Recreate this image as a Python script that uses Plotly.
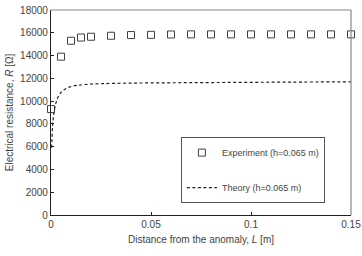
import plotly.graph_objects as go

exp_x = [0, 0.005, 0.01, 0.015, 0.02, 0.03, 0.04, 0.05, 0.06, 0.07, 0.08, 0.09, 0.1, 0.11, 0.12, 0.13, 0.14, 0.15]
exp_y = [9300, 13900, 15300, 15580, 15650, 15740, 15800, 15820, 15850, 15860, 15860, 15860, 15860, 15860, 15860, 15860, 15860, 15860]

th_x = [0.0003, 0.001, 0.0018, 0.0025, 0.0035, 0.0045, 0.0055, 0.007, 0.0095, 0.013, 0.017, 0.025, 0.04, 0.06, 0.08, 0.1, 0.12, 0.15]
th_y = [5900, 8300, 9300, 9850, 10350, 10650, 10850, 11050, 11250, 11380, 11460, 11530, 11580, 11610, 11630, 11650, 11670, 11690]

x_ticks = [0, 0.05, 0.1, 0.15]
x_tick_text = ["0", "0.05", "0.1", "0.15"]
y_ticks = [0, 2000, 4000, 6000, 8000, 10000, 12000, 14000, 16000, 18000]
y_tick_text = [str(v) for v in y_ticks]

fig = go.Figure()
fig.add_trace(go.Scatter(
    x=exp_x, y=exp_y, mode="markers", name="Experiment (h=0.065 m)",
    marker=dict(symbol="square-open", size=7, color="#404040", line=dict(width=1)),
    legendgroup="a", cliponaxis=False))
fig.add_trace(go.Scatter(
    x=th_x, y=th_y, mode="lines", name="Theory (h=0.065 m)",
    line=dict(color="#222222", width=1.2, dash="3px,2.5px", shape="spline"),
    legendgroup="b"))

fig.update_layout(
    width=362, height=256,
    margin=dict(l=51, r=11, t=10, b=41),
    paper_bgcolor="white", plot_bgcolor="white",
    font=dict(family="Liberation Sans, Arial, sans-serif", size=10, color="#444444"),
    showlegend=True,
    legend=dict(x=0.433, y=0.38, xanchor="left", yanchor="top",
                bordercolor="#555555", borderwidth=1, bgcolor="white",
                font=dict(size=9, color="#444444"), tracegroupgap=16,
                itemwidth=30),
    xaxis=dict(range=[0, 0.15], tickvals=x_ticks, ticktext=x_tick_text, automargin=False,
               showgrid=False, zeroline=False, showline=True, linecolor="#222222",
               linewidth=1.2, ticks="inside", ticklen=3, tickcolor="#222222",
               tickfont=dict(size=10),
               title=dict(text="Distance from the anomaly, <i>L</i> [m]", standoff=6,
                          font=dict(size=10))),
    yaxis=dict(range=[0, 18000], tickvals=y_ticks, ticktext=y_tick_text, automargin=False,
               showgrid=False, zeroline=False,
               showline=True, linecolor="#222222", linewidth=1.2,
               ticks="inside", ticklen=3, tickcolor="#222222",
               tickfont=dict(size=10),
               title=dict(text="Electrical resistance, <i>R</i> [Ω]", standoff=4,
                          font=dict(size=10))),
)
fig.add_shape(type="line", xref="paper", yref="paper", x0=0, x1=1, y0=1, y1=1,
              line=dict(color="#888888", width=1.2))
fig.add_shape(type="line", xref="paper", yref="paper", x0=1, x1=1, y0=0, y1=1,
              line=dict(color="#888888", width=1.2))

fig.write_html("out.html")
